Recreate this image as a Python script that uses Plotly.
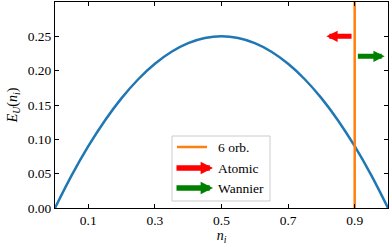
import plotly.graph_objects as go

# data
n_vals = [0.0, 0.05, 0.1, 0.15, 0.2, 0.25, 0.3, 0.35, 0.4, 0.45, 0.5,
          0.55, 0.6, 0.65, 0.7, 0.75, 0.8, 0.85, 0.9, 0.95, 1.0]
E_vals = [0.0, 0.0475, 0.09, 0.1275, 0.16, 0.1875, 0.21, 0.2275, 0.24, 0.2475, 0.25,
          0.2475, 0.24, 0.2275, 0.21, 0.1875, 0.16, 0.1275, 0.09, 0.0475, 0.0]
orb_x = 0.9
atomic_tail_x, atomic_head_x, atomic_y = 0.895, 0.815, 0.25
wannier_tail_x, wannier_head_x, wannier_y = 0.905, 0.99, 0.221
x_ticks = [0.1, 0.3, 0.5, 0.7, 0.9]
y_ticks = [0.0, 0.05, 0.10, 0.15, 0.20, 0.25]

FONT = "Liberation Serif, Times New Roman, serif"
BLUE, ORANGE, RED, GREEN = "#1f77b4", "#ff7f0e", "#ff0000", "#008000"

fig = go.Figure()
fig.add_trace(go.Scatter(x=n_vals, y=E_vals, mode="lines",
                         line=dict(color=BLUE, width=2.5, shape="spline"),
                         showlegend=False))
fig.add_trace(go.Scatter(x=[orb_x, orb_x], y=[0, 0.3], mode="lines",
                         line=dict(color=ORANGE, width=2.5), showlegend=False))

# arrows in data coordinates
for tail, head, yy, col in [(atomic_tail_x, atomic_head_x, atomic_y, RED),
                            (wannier_tail_x, wannier_head_x, wannier_y, GREEN)]:
    fig.add_annotation(x=head, y=yy, ax=tail, ay=yy, xref="x", yref="y",
                       axref="x", ayref="y", showarrow=True, text="",
                       arrowhead=2, arrowsize=0.45, arrowwidth=5, arrowcolor=col)

# custom legend (paper coords)
def px2x(p):
    return (p - 55) / 333.0

def py2y(p):
    return (208 - p) / 206.0

fig.add_shape(type="rect", xref="paper", yref="paper",
              x0=px2x(172), x1=px2x(270), y0=py2y(201), y1=py2y(136),
              line=dict(color="#cccccc", width=1), fillcolor="rgba(255,255,255,0.85)",
              layer="above")
fig.add_shape(type="line", xref="paper", yref="paper",
              x0=px2x(177), x1=px2x(207), y0=py2y(147), y1=py2y(147),
              line=dict(color=ORANGE, width=2.5), layer="above")
for py, col in [(168, RED), (188, GREEN)]:
    fig.add_annotation(x=px2x(213), y=py2y(py), xref="paper", yref="paper",
                       ax=-38, ay=0, showarrow=True, text="",
                       arrowhead=2, arrowsize=0.45, arrowwidth=5.5, arrowcolor=col)
for py, txt in [(147, "6 orb."), (168, "Atomic"), (188, "Wannier")]:
    fig.add_annotation(x=px2x(216), y=py2y(py), xref="paper", yref="paper",
                       text=txt, showarrow=False, xanchor="left", yanchor="middle",
                       font=dict(family=FONT, size=13.5, color="black"))

axis_common = dict(showline=True, linecolor="black", linewidth=1, mirror="ticks",
                   ticks="inside", ticklen=4, tickwidth=1, tickcolor="black",
                   showgrid=False, zeroline=False,
                   tickfont=dict(family=FONT, size=13.5, color="black"))
fig.update_xaxes(range=[0, 1], tickvals=x_ticks, tickformat=".1f",
                 title=dict(text="<i>n<sub>i</sub></i>", font=dict(family=FONT, size=14),
                            standoff=4),
                 **axis_common)
fig.update_yaxes(range=[0, 0.3], tickvals=y_ticks, tickformat=".2f",
                 title=dict(text="<i>E</i><sub><i>U</i></sub>(<i>n<sub>i</sub></i>)",
                            font=dict(family=FONT, size=14), standoff=6),
                 **axis_common)
fig.update_layout(width=390, height=245, margin=dict(l=55, r=2, t=2, b=37),
                  plot_bgcolor="white", paper_bgcolor="white",
                  font=dict(family=FONT, size=13.5, color="black"))
fig.write_html("out.html", config={"displayModeBar": False},
               post_script="document.body.style.margin='0px';")
